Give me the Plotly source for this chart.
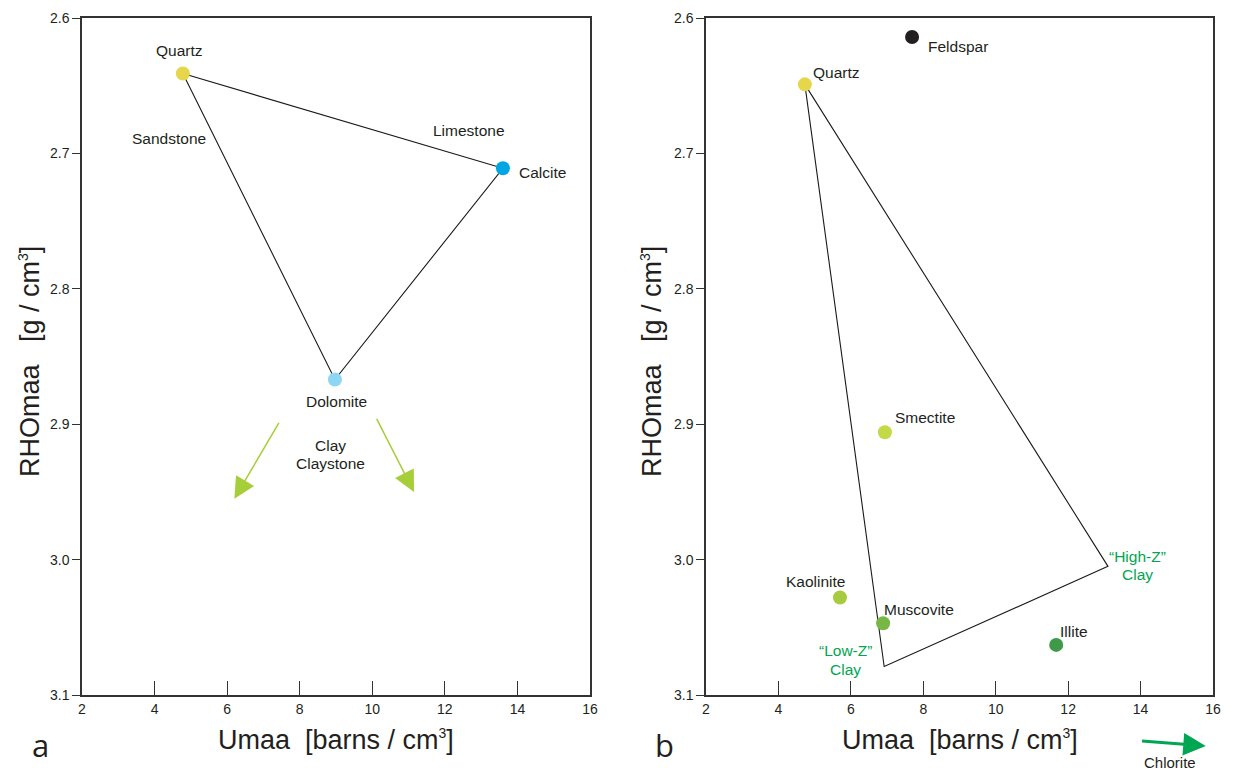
import plotly.graph_objects as go

# ---------------- data ----------------
# Panel a: end-member minerals
a_names = ["Quartz", "Calcite", "Dolomite"]
a_umaa = [4.78, 13.6, 8.97]
a_rho = [2.641, 2.711, 2.867]
a_colors = ["#E6D64B", "#00A6E4", "#8DD6F4"]

# triangle Quartz -> Calcite -> Dolomite -> Quartz
a_tri_u = [4.78, 13.6, 8.97, 4.78]
a_tri_r = [2.641, 2.711, 2.867, 2.641]

# clay arrows (start -> end)
a_arrow_u0 = [7.45, 10.1]
a_arrow_r0 = [2.898, 2.895]
a_arrow_u1 = [6.2, 11.15]
a_arrow_r1 = [2.955, 2.950]

# Panel b
b_names = ["Feldspar", "Quartz", "Smectite", "Kaolinite", "Muscovite", "Illite"]
b_umaa = [7.69, 4.73, 6.94, 5.70, 6.89, 11.67]
b_rho = [2.614, 2.649, 2.906, 3.028, 3.047, 3.063]
b_colors = ["#231F20", "#E6D64B", "#C3D945", "#A6CB3E", "#78B744", "#3F9A47"]

# clay polygon Quartz -> High-Z -> Low-Z -> Quartz
b_poly_u = [4.73, 13.1, 6.92, 4.73]
b_poly_r = [2.649, 3.005, 3.079, 2.649]

# Chlorite arrow (off-scale, drawn below the axis)
chl_u0, chl_u1 = 14.0, 15.8

x_ticks = [2, 4, 6, 8, 10, 12, 14, 16]
y_ticks = [2.6, 2.7, 2.8, 2.9, 3.0, 3.1]

FONT = "Liberation Sans, Arial, sans-serif"
TXT = "#231F20"
GREEN = "#00A651"
CLAYARROW = "#A6CE39"
LBL = 15.5

# the page body has an 8px margin; size the figure so it reaches the window edges
OFF = 8
W, H = 1236 - OFF, 772 - OFF
def px(xp): return (xp - OFF) / W
def py(yp): return 1 - (yp - OFF) / H
def dom_y(yp): return (695 - yp) / 677.0

fig = go.Figure()

# panel a
fig.add_trace(go.Scatter(x=a_tri_u, y=a_tri_r, mode="lines",
                         line=dict(color="#1a1a1a", width=1.1), xaxis="x", yaxis="y",
                         hoverinfo="skip"))
fig.add_trace(go.Scatter(x=a_umaa, y=a_rho, mode="markers", text=a_names,
                         marker=dict(size=14, color=a_colors), xaxis="x", yaxis="y"))
# panel b
fig.add_trace(go.Scatter(x=b_poly_u, y=b_poly_r, mode="lines",
                         line=dict(color="#1a1a1a", width=1.1), xaxis="x2", yaxis="y2",
                         hoverinfo="skip"))
fig.add_trace(go.Scatter(x=b_umaa, y=b_rho, mode="markers", text=b_names,
                         marker=dict(size=14, color=b_colors), xaxis="x2", yaxis="y2"))

ann = []

def lab(x, y, t, ref, color=TXT, size=LBL):
    ann.append(dict(x=x, y=y, text=t, xref="x" + ref, yref="y" + ref, showarrow=False,
                    xanchor="center", yanchor="middle",
                    font=dict(family=FONT, size=size, color=color)))

# panel a labels
lab(4.70, 2.624, "Quartz", "")
lab(4.40, 2.689, "Sandstone", "")
lab(12.66, 2.683, "Limestone", "")
lab(14.70, 2.714, "Calcite", "")
lab(9.02, 2.883, "Dolomite", "")
lab(8.86, 2.916, "Clay", "")
lab(8.86, 2.929, "Claystone", "")

# panel b labels
lab(8.95, 2.621, "Feldspar", "2")
lab(5.59, 2.640, "Quartz", "2")
lab(8.05, 2.895, "Smectite", "2")
lab(5.01, 3.016, "Kaolinite", "2")
lab(7.88, 3.037, "Muscovite", "2")
lab(12.17, 3.053, "Illite", "2")
lab(13.91, 2.998, "\u201cHigh-Z\u201d", "2", color=GREEN)
lab(13.91, 3.011, "Clay", "2", color=GREEN)
lab(5.84, 3.0675, "\u201cLow-Z\u201d", "2", color=GREEN)
lab(5.84, 3.081, "Clay", "2", color=GREEN)

# clay arrows panel a
for u0, r0, u1, r1 in zip(a_arrow_u0, a_arrow_r0, a_arrow_u1, a_arrow_r1):
    ann.append(dict(x=u1, y=r1, ax=u0, ay=r0, xref="x", yref="y", axref="x", ayref="y",
                    showarrow=True, arrowhead=2, arrowsize=2.8, arrowwidth=1.5,
                    arrowcolor=CLAYARROW, text=""))
# chlorite arrow (below the x axis of panel b)
ann.append(dict(x=chl_u1, y=dom_y(746), ax=chl_u0, ay=dom_y(741),
                xref="x2", yref="y2 domain", axref="x2", ayref="y2 domain",
                showarrow=True, arrowhead=2, arrowsize=1.5,
                arrowwidth=3, arrowcolor=GREEN, text=""))
ann.append(dict(x=14.8, y=py(762), xref="x2", yref="paper", showarrow=False,
                xanchor="center", yanchor="middle", text="Chlorite",
                font=dict(family=FONT, size=15, color=TXT)))

# axis titles & panel letters
xtitle = "Umaa&nbsp;&nbsp;[barns / cm<sup><span style='font-size:14px'>3</span></sup>]"
ytitle = "RHOmaa&nbsp;&nbsp;&nbsp;[g / cm<sup><span style='font-size:14px'>3</span></sup>]"
for cx, letter, lx in [(336, "a", 40), (960, "b", 664)]:
    ann.append(dict(x=px(cx), y=py(740), xref="paper", yref="paper", showarrow=False,
                    xanchor="center", yanchor="middle", text=xtitle,
                    font=dict(family=FONT, size=27, color=TXT)))
    ann.append(dict(x=px(lx), y=py(745), xref="paper", yref="paper", showarrow=False,
                    xanchor="center", yanchor="middle", text=letter,
                    font=dict(family="Open Sans, " + FONT, size=31, color=TXT)))
for cx in [30, 652]:
    ann.append(dict(x=px(cx), y=py(362), xref="paper", yref="paper", showarrow=False,
                    xanchor="center", yanchor="middle",
                    textangle=-90, text=ytitle,
                    font=dict(family=FONT, size=27, color=TXT)))

xax = dict(range=[2, 16], tickvals=x_ticks, ticks="inside", ticklen=14, tickwidth=1.2,
           tickcolor="#333", showline=True, linecolor="#333", linewidth=1.5, mirror=True,
           showgrid=False, zeroline=False, automargin=False,
           tickfont=dict(family=FONT, size=14, color=TXT))
yax = dict(range=[3.1, 2.6], tickvals=y_ticks, tickformat=".1f", ticks="outside",
           ticklen=8, tickwidth=1.2, tickcolor="#333", showline=True, linecolor="#333",
           linewidth=1.5, mirror=True, showgrid=False, zeroline=False, automargin=False,
           tickfont=dict(family=FONT, size=14, color=TXT))

ydom = [py(695), py(18)]
fig.update_layout(
    template="none",
    width=W, height=H, autosize=False,
    margin=dict(l=0, r=0, t=0, b=0, pad=0),
    paper_bgcolor="white", plot_bgcolor="white",
    font=dict(family=FONT, color=TXT),
    showlegend=False,
    xaxis=dict(xax, domain=[px(82), px(590)], anchor="y"),
    yaxis=dict(yax, domain=ydom, anchor="x"),
    xaxis2=dict(xax, domain=[px(706), px(1213)], anchor="y2"),
    yaxis2=dict(yax, domain=ydom, anchor="x2"),
    annotations=ann,
)

fig.write_html("out.html")
